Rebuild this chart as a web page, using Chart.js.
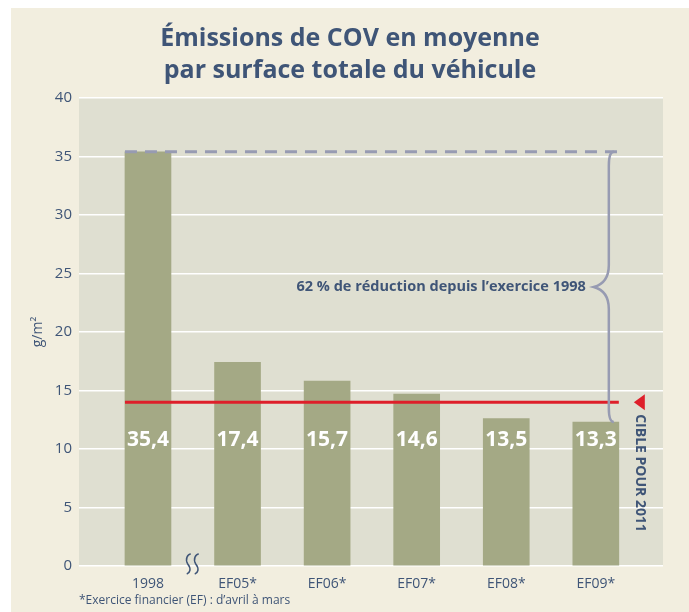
<!DOCTYPE html>
<html>
<head>
<meta charset="utf-8">
<script src="https://cdn.jsdelivr.net/npm/chart.js@4"></script>
<style>
  html, body { margin: 0; padding: 0; background: #fff; }
  #wrap { width: 689px; height: 612px; position: relative; }
</style>
</head>
<body>
<div id="wrap"><canvas id="c" width="689" height="612"></canvas></div>
<script>
/* data */
const categories  = ['1998', 'EF05*', 'EF06*', 'EF07*', 'EF08*', 'EF09*'];
const barValues   = [35.4, 17.4, 15.8, 14.7, 12.6, 12.3];
const valueLabels = ['35,4', '17,4', '15,7', '14,6', '13,5', '13,3'];
const target2011  = 14;
const yTicks      = [0, 5, 10, 15, 20, 25, 30, 35, 40];

const titleLines  = ['Émissions de COV en moyenne', 'par surface totale du véhicule'];
const reductionTxt = '62 % de réduction depuis l\u2019exercice 1998';
const targetTxt   = 'CIBLE POUR 2011';
const footnote    = '*Exercice financier (EF) : d\u2019avril à mars';

const C = {
  cream: '#F2EEDF', plot: '#DFDFD1', bar: '#A4A985', text: '#3F5577',
  red: '#DE1F2A', brace: '#979BB2'
};
const FONT = '"Open Sans", sans-serif';

const decor = {
  id: 'decor',
  beforeDraw(chart) {
    const { ctx, chartArea: a } = chart;
    ctx.save();
    ctx.fillStyle = C.cream;
    ctx.fillRect(11, 8, chart.width - 11, chart.height - 8);
    ctx.fillStyle = C.plot;
    ctx.fillRect(a.left, a.top, a.right - a.left, a.bottom - a.top);
    ctx.restore();
  },
  afterDatasetsDraw(chart) {
    const { ctx, scales: { x, y } } = chart;
    const half = 23;
    ctx.save();

    // value labels inside bars
    ctx.fillStyle = '#fff';
    ctx.font = 'bold 21px ' + FONT;
    ctx.textAlign = 'center';
    ctx.textBaseline = 'middle';
    valueLabels.forEach((t, i) => ctx.fillText(t, x.getPixelForValue(i), y.getPixelForValue(10.8)));

    const xStart = x.getPixelForValue(0) - half;
    const xLast = x.getPixelForValue(categories.length - 1);
    const xEnd = xLast + half;

    // target line
    const yT = y.getPixelForValue(target2011);
    ctx.strokeStyle = C.red;
    ctx.lineWidth = 3;
    ctx.beginPath(); ctx.moveTo(xStart, yT); ctx.lineTo(xEnd, yT); ctx.stroke();

    // triangle marker
    const tx = xEnd + 15;
    ctx.fillStyle = C.red;
    ctx.beginPath();
    ctx.moveTo(tx, yT); ctx.lineTo(tx + 11, yT - 8); ctx.lineTo(tx + 11, yT + 8); ctx.closePath();
    ctx.fill();

    // dashed reference at 1998 level
    const y98 = y.getPixelForValue(barValues[0]);
    ctx.strokeStyle = C.brace;
    ctx.lineWidth = 3;
    ctx.setLineDash([12, 8]);
    ctx.beginPath(); ctx.moveTo(xStart, y98); ctx.lineTo(xEnd, y98); ctx.stroke();
    ctx.setLineDash([]);

    // brace
    const yB = y.getPixelForValue(barValues[barValues.length - 1]);
    const bx = xEnd - 10, ym = (y98 + yB) / 2, tip = bx - 15;
    ctx.lineWidth = 2.5;
    ctx.beginPath();
    ctx.moveTo(bx + 5, y98);
    ctx.quadraticCurveTo(bx, y98, bx, y98 + 14);
    ctx.lineTo(bx, ym - 22);
    ctx.quadraticCurveTo(bx, ym - 4, tip, ym);
    ctx.quadraticCurveTo(bx, ym + 4, bx, ym + 22);
    ctx.lineTo(bx, yB - 14);
    ctx.quadraticCurveTo(bx, yB, bx + 5, yB);
    ctx.stroke();

    // reduction text
    ctx.fillStyle = C.text;
    ctx.font = 'bold 14.5px ' + FONT;
    ctx.textAlign = 'right';
    ctx.fillText(reductionTxt, tip - 8, ym);

    // vertical target text
    ctx.save();
    ctx.translate(tx + 6, yT + 12);
    ctx.rotate(Math.PI / 2);
    ctx.textAlign = 'left';
    ctx.font = 'bold 14px ' + FONT;
    ctx.fillText(targetTxt, 0, 0);
    ctx.restore();

    // axis break squiggles
    const sx = (x.getPixelForValue(0) + x.getPixelForValue(1)) / 2;
    const sy = chart.chartArea.bottom;
    ctx.strokeStyle = C.text;
    ctx.lineWidth = 1.5;
    [-4, 4].forEach(dx => {
      const cx = sx + dx;
      ctx.beginPath();
      ctx.moveTo(cx + 2, sy - 12);
      ctx.bezierCurveTo(cx - 1, sy - 12, cx - 4, sy - 7, cx - 1, sy - 2);
      ctx.bezierCurveTo(cx + 3, sy + 3, cx + 1, sy + 7, cx - 2, sy + 8);
      ctx.stroke();
    });
    ctx.restore();
  },
  afterDraw(chart) {
    const { ctx, chartArea: a } = chart;
    ctx.save();
    ctx.fillStyle = C.text;
    ctx.textAlign = 'center';
    ctx.textBaseline = 'middle';
    ctx.font = 'bold 25px ' + FONT;
    ctx.fillText(titleLines[0], 350, 39);
    ctx.fillText(titleLines[1], 350, 71);

    ctx.save();
    ctx.translate(38, (a.top + a.bottom) / 2);
    ctx.rotate(-Math.PI / 2);
    ctx.font = '14px ' + FONT;
    ctx.fillText('g/m\u00B2', 0, 0);
    ctx.restore();

    ctx.textAlign = 'left';
    ctx.font = '12px ' + FONT;
    ctx.fillText(footnote, 79, 601);
    ctx.restore();
  }
};

new Chart(document.getElementById('c'), {
  type: 'bar',
  data: {
    datasets: [{
      data: barValues.map((v, i) => ({ x: i, y: v })),
      backgroundColor: C.bar,
      barThickness: 46
    }]
  },
  options: {
    responsive: false,
    animation: false,
    layout: { padding: { left: 0, right: 26, top: 98, bottom: 0 } },
    plugins: { legend: { display: false }, tooltip: { enabled: false } },
    scales: {
      x: {
        type: 'linear',
        offset: false,
        min: -0.77, max: 5.75,
        grid: { display: false },
        border: { display: false },
        afterFit: s => { s.height = 46; },
        afterBuildTicks: s => { s.ticks = categories.map((_, i) => ({ value: i })); },
        ticks: {
          padding: 2,
          color: C.text,
          font: { family: 'Open Sans', size: 14 },
          callback: v => categories[v]
        }
      },
      y: {
        min: 0, max: 40,
        afterFit: s => { s.width = 79; },
        afterBuildTicks: s => { s.ticks = yTicks.map(v => ({ value: v })); },
        grid: { color: '#fff', lineWidth: 1.5, drawTicks: false },
        border: { display: false },
        ticks: {
          padding: 7,
          color: C.text,
          font: { family: 'Open Sans', size: 15 }
        }
      }
    }
  },
  plugins: [decor]
});
</script>
</body>
</html>
